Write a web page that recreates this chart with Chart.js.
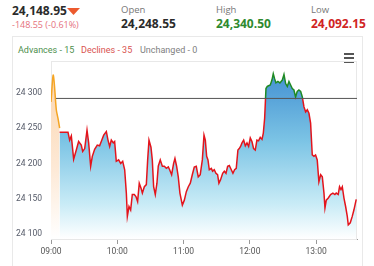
<!DOCTYPE html>
<html>
<head>
<meta charset="utf-8">
<script src="https://cdn.jsdelivr.net/npm/chart.js@4"></script>
<style>
  body { margin: 0; width: 374px; height: 266px; background: #fff; overflow: hidden; position: relative; font-family: "Open Sans", sans-serif; }
  .abs { position: absolute; white-space: nowrap; }
  .big { font-weight: 700; font-size: 12px; color: #2b2b2b; line-height: 14px; }
  .lbl { font-size: 9.5px; color: #777; line-height: 12px; }
  .card { position: absolute; left: 12px; top: 36px; width: 349px; height: 240px; border: 1px solid #e9e9e9; }
  .leg { font-family: Roboto, sans-serif; font-size: 9px; line-height: 12px; }
  .burger { position: absolute; left: 344px; width: 10px; height: 2px; background: #555; }
  #wrap { position: absolute; left: 12px; top: 38px; width: 350px; height: 228px; }
</style>
</head>
<body>
<div class="abs big" style="left:12px;top:4px;">24,148.95</div>
<svg class="abs" style="left:67px;top:8px;" width="14" height="8"><polygon points="0,0 13,0 6.5,7" fill="#ec5a2e"/></svg>
<div class="abs lbl" style="left:12px;top:19px;color:#e5707c;font-size:9px;">-148.55 (-0.61%)</div>
<div class="abs lbl" style="left:121px;top:4px;">Open</div>
<div class="abs big" style="left:121px;top:17px;">24,248.55</div>
<div class="abs lbl" style="left:216px;top:4px;">High</div>
<div class="abs big" style="left:216px;top:17px;color:#2f8a2f;">24,340.50</div>
<div class="abs lbl" style="left:311px;top:4px;">Low</div>
<div class="abs big" style="left:311px;top:17px;color:#d02424;">24,092.15</div>

<div class="card"></div>
<div class="abs leg" style="left:18px;top:44px;color:#4d8f4d;">Advances - 15</div>
<div class="abs leg" style="left:81px;top:44px;color:#d9534f;">Declines - 35</div>
<div class="abs leg" style="left:140px;top:44px;color:#808080;">Unchanged - 0</div>
<div class="burger" style="top:53px;"></div>
<div class="burger" style="top:57px;"></div>
<div class="burger" style="top:61px;"></div>

<div id="wrap"><canvas id="chart"></canvas></div>

<script>
// ---------------- data (minutes after 09:00, index level) ----------------
const preMins = [0, 2.1, 4.8, 6.3, 7.8];
const preVals = [24287, 24325, 24276, 24264, 24250];

const mins = [7.8, 15.4, 16.9, 18.4, 20.5, 22.9, 25.0, 27.4, 28.7, 30.5, 32.6, 34.1, 35.9, 37.4, 39.5,
  41.9, 44.0, 45.5, 47.7, 50.1, 51.6, 53.1, 54.6, 56.4, 57.6, 59.1, 61.2, 63.1, 64.9, 66.7, 68.2, 69.1,
  70.6, 72.1, 73.6, 75.4, 76.9, 78.4, 79.9, 81.5, 82.7, 84.5, 86.3, 87.5, 88.7, 90.5, 91.7, 92.9, 94.4,
  95.9, 97.1, 98.9, 100.8, 102.6, 104.4, 106.2, 107.4, 109.2, 111.0, 112.2, 113.7, 115.2, 116.7, 118.9,
  120.7, 122.5, 124.3, 126.1, 127.9, 129.7, 131.5, 133.3, 135.1, 137.0, 138.5, 139.7, 140.9, 142.1,
  143.3, 145.1, 146.3, 147.8, 149.3, 150.8, 152.0, 153.5, 155.4, 156.9, 158.4, 159.9, 161.4, 163.2,
  164.7, 166.2, 167.7, 169.2, 170.4, 171.6, 172.9, 174.4, 175.9, 177.4, 178.9, 180.4, 181.9, 183.4,
  184.9, 186.4, 187.9, 189.4, 191.0, 192.2, 193.4, 194.6, 195.8, 197.0, 198.5, 200.0, 201.2, 202.4,
  203.6, 205.4, 207.2, 209.4, 210.9, 212.4, 213.9, 215.4, 216.9, 218.4, 219.9, 221.4, 222.9, 224.4,
  226.0, 227.5, 229.0, 230.5, 232.0, 233.5, 235.0, 236.5, 238.0, 239.5, 241.0, 242.5, 244.1, 245.6,
  247.1, 248.0, 249.2, 251.0, 253.1, 255.2, 257.0, 258.2, 260.0, 261.2, 262.5, 263.7, 265.2, 266.7,
  268.2, 269.1, 270.9, 272.7, 274.2, 276.3];
const vals = [24244, 24244, 24233, 24239, 24206, 24219, 24231, 24226, 24217, 24221, 24247, 24229, 24196, 24210, 24220,
  24226, 24225, 24231, 24240, 24245, 24233, 24224, 24233, 24229, 24231, 24203, 24205, 24200, 24203, 24191, 24158, 24125,
  24139, 24134, 24156, 24156, 24153, 24146, 24172, 24165, 24158, 24167, 24170, 24205, 24233, 24223, 24205, 24167, 24156,
  24172, 24196, 24205, 24196, 24196, 24193, 24195, 24191, 24184, 24200, 24207, 24196, 24181, 24158, 24141,
  24148, 24160, 24167, 24172, 24184, 24195, 24196, 24181, 24184, 24205, 24240, 24233, 24210, 24205,
  24191, 24193, 24189, 24191, 24186, 24184, 24172, 24177, 24186, 24189, 24186, 24196, 24197, 24191,
  24186, 24191, 24193, 24219, 24221, 24224, 24229, 24233, 24225, 24229, 24224, 24236, 24231, 24221,
  24219, 24233, 24232, 24237, 24234, 24243, 24264, 24306, 24309, 24310, 24311, 24318, 24327, 24320,
  24314, 24316, 24314, 24318, 24326, 24313, 24309, 24316, 24311, 24306, 24304, 24294, 24302, 24304,
  24302, 24294, 24280, 24273, 24276, 24271, 24257, 24212, 24210, 24212, 24205, 24174, 24184, 24181,
  24158, 24137, 24148, 24151, 24156, 24158, 24156, 24158, 24156, 24167, 24163, 24167, 24151, 24139,
  24125, 24113, 24116, 24125, 24134, 24149];

const refLevel = 24292;
const refMins = [4.5, 277];

const yTicks = [24100, 24150, 24200, 24250, 24300];
const xTickMins = [0, 60, 120, 180, 240];
const xTickLabels = ['09:00', '10:00', '11:00', '12:00', '13:00'];

// ---------------- helpers ----------------
function splitColor(ctx, above, below) {
    const chart = ctx.chart;
    const area = chart.chartArea;
    if (!area) return below;
    const yp = chart.scales.y.getPixelForValue(refLevel);
    const s = Math.min(1, Math.max(0, (yp - area.top) / (area.bottom - area.top)));
    const g = chart.ctx.createLinearGradient(0, area.top, 0, area.bottom);
    g.addColorStop(0, above);
    g.addColorStop(s, above);
    g.addColorStop(s, below);
    g.addColorStop(1, below);
    return g;
}

function blueFill(ctx) {
    const chart = ctx.chart;
    const area = chart.chartArea;
    if (!area) return '#8ccfe8';
    const g = chart.ctx.createLinearGradient(0, area.top, 0, area.bottom);
    g.addColorStop(0, '#3a88cf');
    g.addColorStop(0.45, '#7cc4e5');
    g.addColorStop(0.8, '#c8ebf6');
    g.addColorStop(1, '#ffffff');
    return g;
}

function peachFill(ctx) {
    const chart = ctx.chart;
    const area = chart.chartArea;
    if (!area) return '#fde0c2';
    const g = chart.ctx.createLinearGradient(0, area.top, 0, area.bottom);
    g.addColorStop(0, '#fbd3aa');
    g.addColorStop(0.6, '#fde9d6');
    g.addColorStop(1, '#ffffff');
    return g;
}

const plotFrame = {
    id: 'plotFrame',
    beforeDatasetsDraw(chart) {
        const { ctx, chartArea: a } = chart;
        ctx.save();
        ctx.strokeStyle = '#e8e8e8';
        ctx.lineWidth = 1;
        ctx.strokeRect(a.left + 0.5, a.top + 0.5, a.right - a.left - 1, a.bottom - a.top);
        ctx.restore();
    }
};

// ---------------- chart ----------------
new Chart(document.getElementById('chart'), {
    type: 'line',
    data: {
        datasets: [
            {
                data: refMins.map(m => ({ x: m, y: refLevel })),
                borderColor: '#555',
                borderWidth: 1,
                pointRadius: 0,
                fill: false,
                order: 0
            },
            {
                data: mins.map((m, i) => ({ x: m, y: vals[i] })),
                borderColor: ctx => splitColor(ctx, '#1f8a24', '#e3141c'),
                backgroundColor: blueFill,
                borderWidth: 1.5,
                pointRadius: 0,
                tension: 0,
                fill: 'start',
                order: 1
            },
            {
                data: preMins.map((m, i) => ({ x: m, y: preVals[i] })),
                borderColor: '#f5a524',
                backgroundColor: peachFill,
                borderWidth: 1.5,
                pointRadius: 0,
                tension: 0.3,
                fill: 'start',
                order: 2
            }
        ]
    },
    options: {
        responsive: true,
        maintainAspectRatio: false,
        animation: false,
        layout: { padding: { top: 23, right: 5, left: 0, bottom: 0 } },
        plugins: { legend: { display: false }, tooltip: { enabled: false } },
        scales: {
            x: {
                type: 'linear',
                min: 0,
                max: 277,
                afterFit: s => { s.height = 27; },
                afterBuildTicks: s => { s.ticks = xTickMins.map(v => ({ value: v })); },
                grid: { drawOnChartArea: false, drawTicks: true, tickLength: 5, color: '#999' },
                border: { display: true, color: '#999', width: 1 },
                ticks: {
                    autoSkip: false,
                    maxRotation: 0,
                    padding: 3,
                    color: '#555',
                    font: { family: 'Roboto', size: 8.5 },
                    callback: (v, i) => xTickLabels[i]
                }
            },
            y: {
                min: 24093,
                max: 24345,
                afterFit: s => { s.width = 39; },
                afterBuildTicks: s => { s.ticks = yTicks.map(v => ({ value: v })); },
                grid: { display: false, drawTicks: false },
                border: { display: false },
                ticks: {
                    padding: 9,
                    color: '#555a68',
                    font: { family: 'Roboto', size: 8.5 },
                    callback: v => String(v).replace(/(\d{2})(\d{3})$/, '$1 $2')
                }
            }
        }
    },
    plugins: [plotFrame]
});
</script>
</body>
</html>
